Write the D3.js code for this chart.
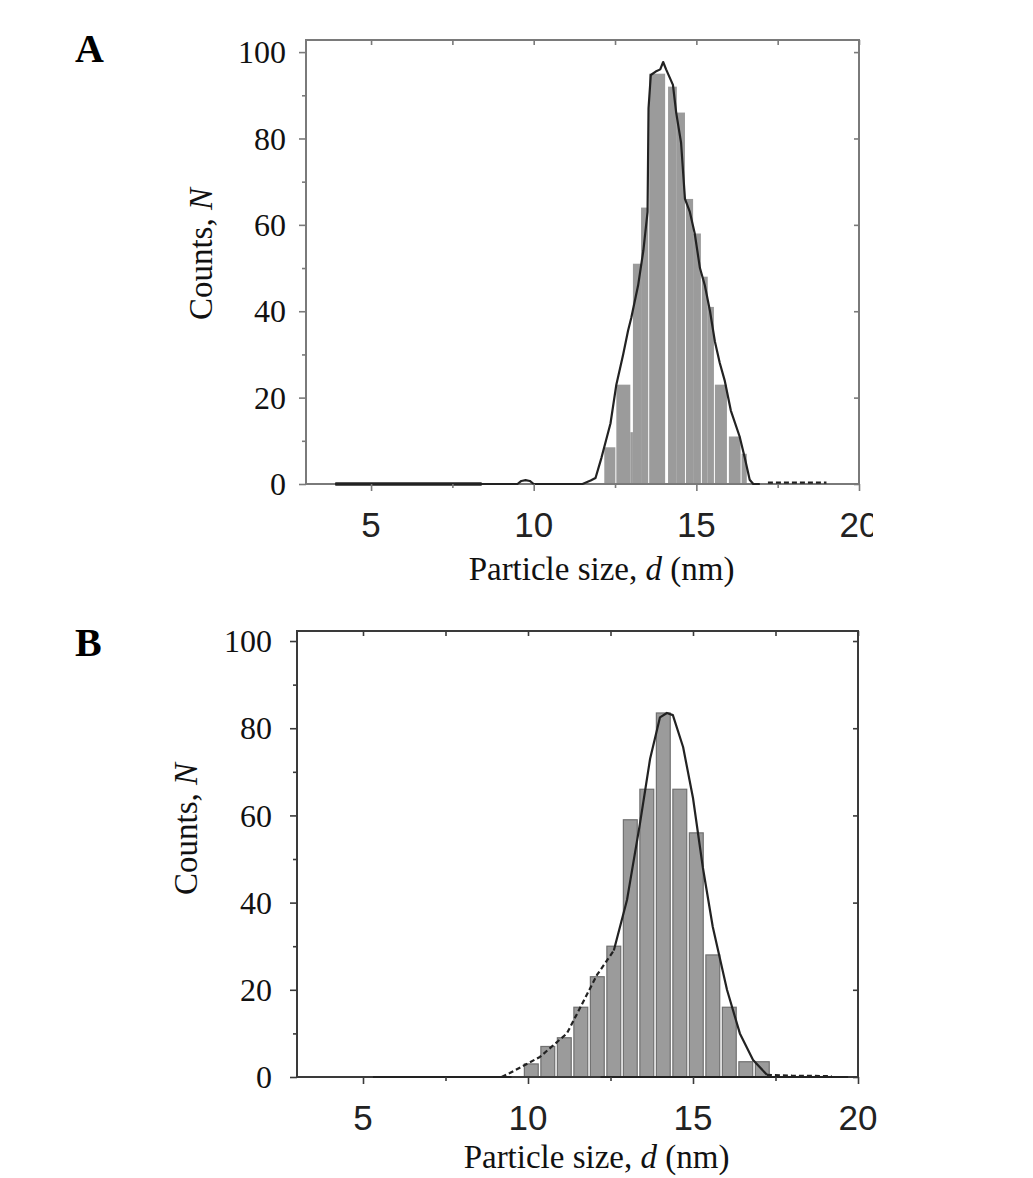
<!DOCTYPE html>
<html>
<head>
<meta charset="utf-8">
<script src="https://cdn.jsdelivr.net/npm/d3@7"></script>
<style>
  body { margin: 0; background: #fff; }
  svg { display: block; }
</style>
</head>
<body>
<svg id="chart" width="1033" height="1178"></svg>
<script>
// axis ticks (nm and counts)
const sizeTicks = [5, 10, 15, 20];
const sizeMinorTicks = [7.5, 12.5, 17.5];
const countTicks = [0, 20, 40, 60, 80, 100];
const countMinorTicks = [10, 30, 50, 70, 90];

// panel A histogram, bins (nm)
const binStartA = [12.17, 12.54, 12.97, 13.05, 13.30, 13.55, 14.13, 14.40, 14.68, 14.90, 15.17, 15.35, 15.57, 16.00, 16.39];
const binEndA   = [12.51, 12.97, 13.05, 13.30, 13.52, 14.04, 14.40, 14.65, 14.90, 15.14, 15.35, 15.54, 15.94, 16.36, 16.55];
const countsA   = [8.5, 23, 12, 51, 64, 95, 92, 86, 66, 58, 48, 41, 23, 11, 7];

// panel A fitted curve
const fitSizeA  = [3.9, 8.4, 9.5, 9.62, 9.75, 9.88, 10.0, 11.5, 11.75, 11.9, 12.08, 12.36, 12.54, 12.75, 12.9, 13.0, 13.21, 13.37, 13.5, 13.53, 13.6, 13.75, 13.89, 13.98, 14.07, 14.28, 14.38, 14.53, 14.65, 14.8, 14.95, 15.11, 15.26, 15.42, 15.57, 15.72, 15.87, 16.06, 16.33, 16.49, 16.64, 16.75, 16.95];
const fitCountA = [0, 0, 0, 0.7, 0.9, 0.7, 0, 0, 0.8, 1.4, 6, 14, 23, 30, 35.5, 38.5, 46, 54, 63, 87, 94.7, 95.5, 96, 97.7, 96, 92.4, 86, 79, 66, 63, 58, 50, 46, 40, 33, 28, 24, 17, 11, 6, 1, 0, 0];
const tailSizeA  = [17.2, 18.1, 19.0];
const tailCountA = [0.3, 0.3, 0.3];
const thickBaseA = [3.9, 8.4];

// panel B histogram
const binCenterB = [10.1, 10.6, 11.1, 11.6, 12.1, 12.6, 13.1, 13.6, 14.1, 14.6, 15.1, 15.6, 16.1, 16.6, 17.1];
const countsB    = [3, 7, 9, 16, 23, 30, 59, 66, 83.5, 66, 56, 28, 16, 3.5, 3.5];
const binWidthB = 0.42;

// panel B fitted curve: main gaussian, dashed tails, zero baseline pieces
const fitSizeB  = [12.6, 13.0, 13.39, 13.7, 14.0, 14.21, 14.39, 14.7, 15.0, 15.3, 15.6, 16.03, 16.42, 16.82, 17.24];
const fitCountB = [29, 40.6, 58, 73, 82.5, 83.5, 83, 75.7, 64, 48, 34.4, 20, 10, 3.9, 0.5];
const leftTailSizeB  = [9.2, 9.45, 10.36, 11.18, 12.09, 12.6];
const leftTailCountB = [0, 0.9, 4.6, 10, 23.4, 29];
const rightTailSizeB  = [17.24, 18.0, 19.2];
const rightTailCountB = [0.5, 0.3, 0.2];
const baseSegmentsB = [[5.3, 9.5], [12.2, 19.7]];

const svg = d3.select("#chart");
const serif = "'Liberation Serif', 'Times New Roman', serif";
const sans = "'Liberation Sans', Arial, sans-serif";

function drawPanel(p) {
  const x = d3.scaleLinear().domain([3, 20]).range([p.left, p.right]);
  const y = d3.scaleLinear().domain([0, p.yMax]).range([p.bottom, p.top]);
  const g = svg.append("g");

  // bars
  g.append("g").selectAll("rect")
    .data(p.bars)
    .join("rect")
    .attr("x", d => x(d.x0))
    .attr("width", d => x(d.x1) - x(d.x0))
    .attr("y", d => y(d.n))
    .attr("height", d => y(0) - y(d.n))
    .attr("fill", "#9b9b9b")
    .attr("stroke", p.barStroke)
    .attr("stroke-width", p.barStroke === "none" ? 0 : 1.2);

  // frame
  g.append("rect")
    .attr("x", p.left).attr("y", p.top)
    .attr("width", p.right - p.left).attr("height", p.bottom - p.top)
    .attr("fill", "none").attr("stroke", p.frame).attr("stroke-width", 2);

  const line = d3.line().x(d => x(d[0])).y(d => y(d[1]));
  p.curves.forEach(c => {
    g.append("path")
      .attr("d", line(d3.zip(c.xs, c.ys)))
      .attr("fill", "none")
      .attr("stroke", "#222")
      .attr("stroke-width", c.w || 2.2)
      .attr("stroke-dasharray", c.dash ? "5,3" : null)
      .attr("stroke-linejoin", "round");
  });

  // ticks
  const styleAxis = sel => {
    sel.select(".domain").remove();
    sel.selectAll("line").attr("stroke", p.frame).attr("stroke-width", 1.6);
  };
  g.append("g").attr("transform", `translate(0,${p.bottom})`)
    .call(d3.axisBottom(x).tickValues(sizeTicks).tickSize(7).tickFormat(""))
    .call(styleAxis);
  g.append("g").attr("transform", `translate(0,${p.bottom})`)
    .call(d3.axisBottom(x).tickValues(sizeMinorTicks).tickSize(4).tickFormat(""))
    .call(styleAxis);
  g.append("g").attr("transform", `translate(0,${p.top})`)
    .call(d3.axisBottom(x).tickValues(sizeTicks.concat(sizeMinorTicks)).tickSize(5).tickFormat(""))
    .call(styleAxis);
  g.append("g").attr("transform", `translate(${p.left},0)`)
    .call(d3.axisLeft(y).tickValues(countTicks).tickSize(7).tickFormat(""))
    .call(styleAxis);
  g.append("g").attr("transform", `translate(${p.left},0)`)
    .call(d3.axisLeft(y).tickValues(countMinorTicks).tickSize(4).tickFormat(""))
    .call(styleAxis);
  g.append("g").attr("transform", `translate(${p.right},0)`)
    .call(d3.axisLeft(y).tickValues(countTicks).tickSize(5).tickFormat(""))
    .call(styleAxis);

  // tick labels
  const clipId = "clip" + p.name;
  svg.append("clipPath").attr("id", clipId)
    .append("rect").attr("x", 0).attr("y", 0).attr("width", p.clipRight).attr("height", 1178);
  g.append("g").attr("clip-path", `url(#${clipId})`)
    .selectAll("text").data(sizeTicks).join("text")
    .attr("x", d => x(d)).attr("y", p.bottom + 41)
    .attr("dy", "0.35em")
    .attr("text-anchor", "middle")
    .style("font-family", sans).style("font-size", "35px").attr("fill", "#222")
    .text(d => d);
  g.append("g").selectAll("text").data(countTicks).join("text")
    .attr("x", p.left - p.yLabelOff).attr("y", d => y(d))
    .attr("dy", "0.35em")
    .attr("text-anchor", "end")
    .style("font-family", serif).style("font-size", "32px").attr("fill", "#111")
    .text(d => d);

  // axis titles
  const xt = g.append("text")
    .attr("x", (p.left + p.right) / 2 + 19).attr("y", p.bottom + p.xTitleOff)
    .attr("dy", "0.35em").attr("text-anchor", "middle")
    .style("font-family", serif).style("font-size", "33px").attr("fill", "#111");
  xt.append("tspan").text("Particle size, ");
  xt.append("tspan").style("font-style", "italic").text("d");
  xt.append("tspan").text(" (nm)");

  const yt = g.append("text")
    .attr("transform", `translate(${p.left - p.yTitleOff},${y(50) + p.yTitleDy}) rotate(-90)`)
    .attr("dy", "0.35em").attr("text-anchor", "middle")
    .style("font-family", serif).style("font-size", "33px").attr("fill", "#111");
  yt.append("tspan").text("Counts, ");
  yt.append("tspan").style("font-style", "italic").text("N");

  // panel letter
  g.append("text")
    .attr("x", 75).attr("y", p.top + p.letterDy)
    .style("font-family", serif).style("font-size", "40px").style("font-weight", "bold")
    .attr("fill", "#000")
    .text(p.name);
}

drawPanel({
  name: "A",
  left: 306, right: 859, top: 40, bottom: 484, yMax: 102.8,
  frame: "#7a7a7a", barStroke: "none", clipRight: 873,
  xTitleOff: 84, yTitleOff: 106, yTitleDy: -14, yLabelOff: 20, letterDy: 22,
  bars: binStartA.map((s, i) => ({ x0: s, x1: binEndA[i], n: countsA[i] })),
  curves: [
    { xs: fitSizeA, ys: fitCountA },
    { xs: thickBaseA, ys: [0, 0], w: 3.5 },
    { xs: tailSizeA, ys: tailCountA, dash: true }
  ]
});

drawPanel({
  name: "B",
  left: 297, right: 858, top: 631, bottom: 1077, yMax: 102.3,
  frame: "#3a3a3a", barStroke: "#707070", clipRight: 1033,
  xTitleOff: 79, yTitleOff: 112, yTitleDy: -30, yLabelOff: 25, letterDy: 25,
  bars: binCenterB.map((c, i) => ({ x0: c - binWidthB / 2, x1: c + binWidthB / 2, n: countsB[i] })),
  curves: [
    { xs: baseSegmentsB[0], ys: [0, 0] },
    { xs: baseSegmentsB[1], ys: [0, 0] },
    { xs: leftTailSizeB, ys: leftTailCountB, dash: true },
    { xs: fitSizeB, ys: fitCountB },
    { xs: rightTailSizeB, ys: rightTailCountB, dash: true }
  ]
});
</script>
</body>
</html>
